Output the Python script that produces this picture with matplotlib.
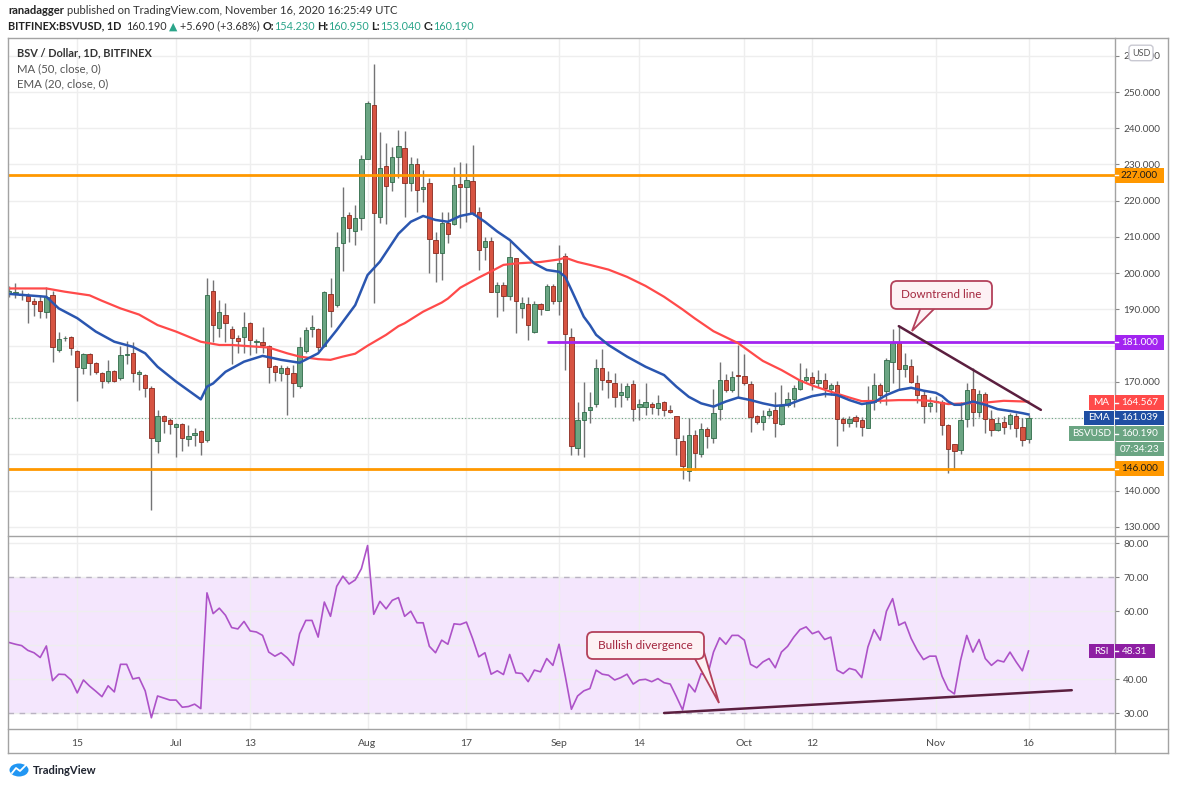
import numpy as np
import pandas as pd
import matplotlib
matplotlib.use("Agg")
import matplotlib.pyplot as plt
from matplotlib.patches import FancyBboxPatch, Rectangle, Polygon, Ellipse
from matplotlib.lines import Line2D
from matplotlib.transforms import IdentityTransform
from matplotlib.ticker import FuncFormatter, FixedLocator

plt.rcParams['font.family'] = ['Lato', 'DejaVu Sans']

# ---------------- data ----------------
start_date = "2020-06-04"
opens = [194.5,194.6,194.0,193.6,192.3,192.3,189.4,194.0,178.8,182.0,182.3,178.6,173.8,177.7,175.2,172.4,170.4,173.1,171.0,177.4,
         177.9,172.1,172.0,168.3,153.8,160.6,159.5,157.5,158.4,154.3,155.3,156.5,154.0,195.0,184.8,188.5,184.6,182.1,182.5,186.4,
         181.0,180.9,180.0,174.4,172.4,173.8,172.6,168.9,178.6,184.7,184.7,180.0,194.2,191.1,208.3,216.2,211.7,215.2,231.5,246.4,
         215.6,229.6,225.3,232.2,234.6,224.8,230.1,223.3,224.8,209.2,205.5,213.8,213.6,224.6,223.7,225.5,216.8,207.2,208.9,194.9,
         196.8,193.8,204.1,190.3,191.5,183.9,191.5,189.9,196.5,192.2,204.8,182.5,151.7,159.5,162.3,163.9,173.8,170.6,169.6,166.4,
         165.9,169.4,163.0,163.2,164.0,162.7,164.5,162.3,160.6,153.7,145.4,155.3,150.0,156.9,154.5,162.5,170.6,167.7,172.0,171.7,
         169.4,160.6,158.9,160.9,162.3,158.3,163.6,165.2,168.1,170.6,171.3,169.6,170.6,168.0,169.1,159.9,158.8,160.2,159.5,157.4,
         164.6,169.1,167.5,175.4,180.7,173.5,174.4,169.6,166.4,163.4,164.4,164.6,158.1,152.8,151.2,159.7,168.0,161.8,166.7,159.7,
         156.8,159.0,158.3,160.6,157.5,154.23]
highs = [196.5,197.2,195.4,194.6,193.1,194.0,196.3,195.0,183.7,182.6,182.6,178.8,178.0,177.9,175.5,172.8,176.1,173.3,179.8,181.4,
         181.1,173.3,172.3,169.0,162.3,160.8,160.0,158.8,158.6,158.1,157.2,156.8,198.6,198.0,192.6,191.7,185.5,183.0,189.2,186.6,
         181.8,185.3,180.3,174.7,174.7,174.5,174.7,182.5,185.3,188.5,185.0,195.0,198.6,211.3,223.9,217.0,218.8,232.6,247.6,257.7,
         239.0,235.8,234.7,239.5,239.3,232.0,231.7,228.5,226.2,211.4,217.0,217.0,229.4,230.8,230.3,235.4,218.4,209.9,210.1,197.7,
         197.7,209.0,204.3,193.5,193.4,192.2,191.8,197.0,197.0,207.8,205.5,184.8,164.6,170.0,167.3,176.3,179.0,172.9,172.6,169.8,
         169.6,170.6,165.2,169.6,164.6,166.4,164.8,163.6,160.6,155.3,160.0,156.8,158.6,157.6,168.0,175.6,172.1,173.0,180.2,177.7,
         170.3,161.0,162.4,162.8,167.1,169.2,167.3,169.2,175.3,173.9,172.8,173.4,172.4,169.8,170.2,160.3,160.5,160.9,160.4,169.0,
         172.4,169.7,176.6,184.5,185.4,178.0,176.3,171.9,167.6,165.8,166.0,165.0,158.5,153.0,164.6,169.6,173.8,167.8,167.1,162.3,
         160.3,160.6,161.4,161.3,160.1,160.95]
lows = [193.5,193.1,192.6,186.2,188.2,187.6,187.6,175.6,178.2,181.4,177.4,164.8,172.2,171.9,172.2,168.3,169.6,170.0,170.5,175.0,
        170.1,167.8,165.9,134.7,150.3,155.8,155.7,149.2,151.0,152.2,152.4,149.9,153.5,181.1,182.5,181.1,175.0,178.1,178.0,177.4,
        177.9,177.9,169.8,170.4,170.4,160.9,165.9,168.2,177.9,182.5,178.5,179.7,185.3,190.8,200.7,208.7,207.8,211.9,231.5,191.9,
        213.9,213.6,222.7,226.2,215.6,222.8,217.0,219.7,200.0,197.7,198.1,208.4,213.4,212.4,214.0,216.2,200.9,203.7,194.8,188.0,
        189.7,192.6,183.4,187.6,181.6,183.6,188.5,189.9,191.5,188.5,173.3,149.9,149.8,149.4,158.6,163.0,167.8,165.5,163.0,163.0,
        165.0,159.3,159.5,160.9,161.2,160.9,160.6,161.3,149.9,143.2,142.6,145.7,149.4,151.7,153.1,159.5,167.2,167.2,165.5,169.2,
        156.3,158.5,156.8,160.2,154.8,158.1,163.0,163.0,167.8,169.6,167.8,168.7,165.9,166.4,152.2,156.6,157.5,157.5,155.0,157.2,
        162.3,164.1,163.7,169.6,167.9,171.5,169.6,164.1,158.7,161.8,161.8,155.3,144.8,145.7,150.2,157.7,157.8,160.4,155.8,155.0,
        156.5,155.7,156.9,154.8,152.2,153.04]
closes = [195.2,194.9,194.3,192.4,191.4,189.7,193.4,179.6,181.9,182.2,179.3,174.0,177.7,175.2,172.8,170.3,173.1,170.3,177.4,177.6,
          172.4,172.8,168.3,154.5,160.6,159.1,158.3,158.4,154.6,155.2,155.8,153.5,194.0,185.7,189.2,186.4,182.1,181.4,185.2,181.6,
          181.4,180.2,174.0,172.8,173.8,172.2,169.6,179.6,184.3,185.1,179.6,194.7,189.7,207.1,215.5,212.4,215.2,231.5,246.9,216.5,
          228.9,224.1,232.2,235.1,225.0,230.0,222.9,223.8,209.4,205.5,213.8,210.7,224.3,223.7,225.7,216.5,206.4,208.9,194.9,196.8,
          193.8,204.4,192.2,191.7,185.7,191.5,190.0,196.5,192.2,202.8,183.2,152.2,159.6,161.8,163.0,173.8,170.6,170.1,165.9,167.1,
          168.9,162.5,163.9,164.5,163.0,164.1,162.3,161.8,154.5,146.9,155.3,150.5,156.9,155.2,161.4,170.6,167.7,171.5,171.7,169.6,
          160.4,158.9,160.7,162.0,158.6,163.4,165.2,168.3,170.6,171.5,169.6,170.6,168.3,169.1,159.7,158.8,159.9,159.3,157.5,164.4,
          169.1,166.4,176.1,180.7,173.5,174.7,170.1,166.4,163.4,164.3,164.7,158.0,151.5,151.0,159.5,167.8,161.8,166.7,159.7,156.8,
          158.6,157.5,160.9,157.4,154.0,160.19]

# MA(50) and EMA(20) (day index, value)
ma_days = [0, 6, 9, 13, 15, 18, 21, 24, 27, 31, 34, 36, 42, 45, 47, 50, 52, 54, 56, 58, 61, 63, 64, 67, 70, 71, 73, 76, 78,
           80, 82, 84, 86, 89, 90, 92, 94, 97, 100, 103, 106, 109, 111, 114, 118, 121, 122, 125, 128, 130, 133, 136, 138,
           141, 144, 147, 149, 152, 155, 158, 161, 165]
ma_vals = [195.8, 195.8, 194.9, 193.9, 192.4, 190.3, 188.6, 185.7, 183.9, 181.1, 180.2, 180.2, 179.5, 177.9, 177.0, 176.3,
           176.1, 177.0, 177.8, 180.0, 183.0, 185.4, 186.2, 189.4, 191.9, 193.0, 196.0, 198.8, 200.5, 202.3, 202.7, 202.9,
           203.1, 203.8, 204.3, 203.1, 202.3, 201.0, 199.0, 196.5, 193.5, 190.0, 187.5, 184.0, 180.7, 177.0, 175.8, 173.3,
           170.4, 169.0, 167.3, 165.7, 164.7, 164.8, 165.0, 165.0, 164.8, 163.9, 164.1, 164.3, 164.8, 164.567]
ema_days = [0, 6, 8, 11, 14, 17, 20, 22, 24, 27, 31, 32, 33, 35, 38, 41, 44, 47, 50, 53, 56, 58, 60, 63, 65, 67, 69, 71, 73,
            75, 77, 79, 81, 83, 85, 87, 89, 90, 91, 93, 94, 95, 97, 100, 103, 106, 108, 110, 112, 114, 116, 118, 120, 122,
            124, 126, 128, 130, 132, 134, 136, 138, 140, 142, 144, 146, 148, 150, 151, 152, 153, 154, 156, 158, 160, 162,
            164, 165]
ema_vals = [194.3, 193.5, 190.3, 187.6, 183.9, 181.1, 179.7, 177.9, 174.2, 170.1, 165.2, 168.7, 169.6, 172.8, 175.6, 177.2,
            176.1, 175.3, 177.9, 184.3, 191.2, 199.5, 203.2, 210.9, 214.2, 215.8, 214.7, 214.2, 215.8, 216.5, 214.2, 211.5,
            209.2, 205.9, 202.7, 200.9, 200.4, 199.0, 195.4, 188.0, 185.7, 183.0, 180.2, 177.0, 174.2, 171.9, 168.7, 165.9,
            164.1, 163.2, 164.6, 165.7, 165.0, 164.1, 163.4, 163.7, 165.0, 166.1, 166.7, 166.4, 165.0, 163.9, 164.4, 166.4,
            167.8, 168.4, 167.6, 167.0, 166.1, 164.6, 163.7, 163.7, 164.6, 163.7, 162.5, 162.0, 161.4, 161.039]

rsi_vals = [50.8, 50.3, 49.9, 48.5, 47.8, 46.4, 49.8, 39.6, 41.5, 41.4, 39.8, 36.0, 39.8, 38.0, 36.5, 34.9, 38.1, 36.3, 44.4,
            44.4, 40.1, 40.5, 36.6, 28.7, 35.1, 34.5, 33.9, 33.9, 31.8, 32.0, 32.7, 31.4, 65.4, 59.3, 60.9, 58.8, 55.2, 54.8,
            57.0, 54.2, 53.9, 52.9, 48.0, 46.8, 47.8, 46.3, 44.1, 53.4, 57.3, 57.3, 52.4, 62.7, 58.5, 67.3, 70.3, 68.0, 69.2,
            72.5, 79.3, 59.1, 62.9, 60.7, 63.2, 64.0, 58.5, 60.0, 56.6, 56.6, 49.7, 47.8, 51.5, 50.3, 56.3, 56.1, 56.8, 52.0,
            46.6, 47.8, 41.5, 42.5, 41.4, 47.3, 41.9, 41.7, 39.3, 42.7, 42.2, 46.1, 44.1, 50.3, 41.0, 31.2, 35.1, 36.6, 37.3,
            42.7, 41.5, 41.2, 39.8, 40.5, 41.5, 38.6, 39.8, 40.0, 39.3, 40.2, 39.0, 38.6, 34.9, 31.0, 38.6, 36.3, 41.7, 40.9,
            48.0, 52.2, 50.3, 52.9, 52.9, 51.5, 44.4, 43.4, 45.1, 46.1, 43.4, 48.0, 49.7, 52.4, 54.6, 55.4, 53.4, 54.1, 51.7,
            52.4, 42.7, 41.7, 43.2, 42.7, 40.5, 49.5, 54.6, 51.5, 60.0, 63.7, 55.9, 56.8, 52.0, 48.5, 45.8, 46.8, 46.8, 40.9,
            37.0, 35.7, 45.6, 52.9, 48.0, 51.7, 46.1, 44.1, 45.6, 45.1, 48.0, 45.1, 42.5, 48.31]

support_level = 146.0
resistance_level = 227.0
range_top_level = 181.0
range_top_from = "2020-08-30"
trend_start = ("2020-10-26", 185.4)
trend_end = ("2020-11-18", 162.3)
rsi_div_start = ("2020-09-18", 30.1)
rsi_div_end = ("2020-11-23", 36.8)

tick_dates = ["2020-06-15", "2020-07-01", "2020-07-13", "2020-08-01", "2020-08-17", "2020-09-01",
              "2020-09-14", "2020-10-01", "2020-10-12", "2020-11-01", "2020-11-16"]
tick_labels = ["15", "Jul", "13", "Aug", "17", "Sep", "14", "Oct", "12", "Nov", "16"]
price_ticks = [130, 140, 150, 160, 170, 180, 190, 200, 210, 220, 230, 240, 250, 260]
price_ticks_hidden = [150, 160, 180]      # covered by the value labels
rsi_ticks = [30, 40, 50, 60, 70, 80]
rsi_ticks_hidden = [50]

last_close = closes[-1]
ma_last, ema_last, rsi_last = 164.567, 161.039, 48.31

# ---------------- figure ----------------
W, H = 1189, 791
fig = plt.figure(figsize=(W / 100, H / 100), dpi=100)
fig.patch.set_facecolor("white")
P = IdentityTransform()


def Y(y):
    return H - y


def day(d):
    return (pd.Timestamp(d) - pd.Timestamp(start_date)).days


L, R, T, MID, BOT = 8, 1115, 38, 536, 729
ax = fig.add_axes([L / W, (H - MID) / H, (R - L) / W, (MID - T) / H])
ar = fig.add_axes([L / W, (H - BOT) / H, (R - L) / W, (BOT - MID) / H])

n = len(closes)
x = np.arange(n)
o = np.array(opens); hgh = np.array(highs); low = np.array(lows); c = np.array(closes)
up = c >= o

XMIN, XMAX = -0.21, 179.0
for a in (ax, ar):
    a.set_xlim(XMIN, XMAX)
    for s in a.spines.values():
        s.set_visible(False)
    a.set_facecolor("white")
    a.set_axisbelow(True)

ax.set_ylim(127.5, 264.9)
ar.set_ylim(25.4, 82.1)

tick_pos = [day(d) for d in tick_dates]
for a in (ax, ar):
    a.xaxis.set_major_locator(FixedLocator(tick_pos))
    a.grid(True, color="#eeeeee", lw=1)
ax.tick_params(axis="x", length=0, labelbottom=False)
ar.set_xticks(tick_pos)
ar.set_xticklabels(tick_labels)
ar.tick_params(axis="x", length=0, pad=7, labelsize=7.5, labelcolor="#4a4a4a")

ax.yaxis.tick_right()
ax.set_yticks(price_ticks)
ax.yaxis.set_major_formatter(FuncFormatter(lambda v, p: "" if round(v) in price_ticks_hidden else f"{v:.3f}"))
ar.yaxis.tick_right()
ar.set_yticks(rsi_ticks)
ar.yaxis.set_major_formatter(FuncFormatter(lambda v, p: "" if round(v) in rsi_ticks_hidden else f"{v:.2f}"))
for a in (ax, ar):
    a.tick_params(axis="y", length=3, width=0.8, color="#888888", labelsize=7.2,
                  labelcolor="#4a4a4a", pad=3)

# candles
up_face, dn_face = "#6ba583", "#d75442"
up_edge, dn_edge = "#2f6b48", "#8a2a1f"
ax.vlines(x, low, hgh, color="#737375", lw=1, zorder=2)
ax.bar(x, c - o, bottom=o, width=0.7,
       color=np.where(up, up_face, dn_face),
       edgecolor=np.where(up, up_edge, dn_edge), linewidth=0.6, zorder=3)

# levels
ax.axhline(resistance_level, color="#ff9800", lw=2, zorder=4)
ax.axhline(support_level, color="#ff9800", lw=2, zorder=4)
ax.hlines(range_top_level, day(range_top_from), XMAX, color="#a224f0", lw=2, zorder=4)
ax.axhline(last_close, color="#6ba583", lw=0.8, ls=(0, (1, 2)), zorder=1.5)

# moving averages
ax.plot(ma_days, ma_vals, color="#ff4a4a", lw=1.6, zorder=5, solid_joinstyle="round")
ax.plot(ema_days, ema_vals, color="#2a56b0", lw=1.8, zorder=5, solid_joinstyle="round")

# trend line
ax.plot([day(trend_start[0]), day(trend_end[0])], [trend_start[1], trend_end[1]],
        color="#5b1f3f", lw=1.8, zorder=6, solid_capstyle="round")

# RSI pane
ar.axhspan(30, 70, color="#f4e6fd", zorder=0.1, lw=0)
ar.axhline(70, color="#b9b2c2", lw=1, ls=(0, (4, 4)), zorder=0.6)
ar.axhline(30, color="#b9b2c2", lw=1, ls=(0, (4, 4)), zorder=0.6)
ar.plot(x, rsi_vals, color="#ad52c8", lw=1.2, zorder=3)
ar.plot([day(rsi_div_start[0]), day(rsi_div_end[0])], [rsi_div_start[1], rsi_div_end[1]],
        color="#5b1f3f", lw=1.8, zorder=4, solid_capstyle="round")

# ---------------- frame ----------------
fc = "#a3a3a3"
for (x0, y0, x1, y1) in [(L, T, 1168, T), (L, 753, 1168, 753), (L, T, L, 753), (1168, T, 1168, 753),
                         (R, T, R, 753), (L, MID, 1168, MID), (L, BOT, 1168, BOT)]:
    fig.add_artist(Line2D([x0, x1], [Y(y0), Y(y1)], transform=P, color=fc, lw=1, zorder=3))

renderer = fig.canvas.get_renderer()


def draw_runs(x0, yc, runs, fs, target=None):
    def _draw(size):
        arts, cur = [], x0
        for s, col, wt, gap in runs:
            t = fig.text(cur, Y(yc), s, transform=P, color=col, fontsize=size, fontweight=wt,
                         ha="left", va="center", zorder=10)
            w = t.get_window_extent(renderer).width
            arts.append(t)
            cur += w + gap * size / 9.0
        return arts, cur - x0
    arts, tot = _draw(fs)
    if target is not None:
        for a_ in arts:
            a_.remove()
        arts, tot = _draw(fs * target / tot)
    return arts


# header
draw_runs(8, 10, [("ranadagger", "#222222", "bold", 3),
                  ("published on TradingView.com, November 16, 2020 16:25:49 UTC", "#333333", "normal", 0)],
          9, target=390)
green = "#2ba58a"
draw_runs(8, 26, [("BITFINEX:BSVUSD, 1D", "#222222", "bold", 5),
                  ("160.190", "#333333", "normal", 3),
                  ("\u25B2", green, "normal", 3),
                  ("+5.690 (+3.68%)", "#333333", "normal", 3),
                  ("O:", "#222222", "bold", 0), ("154.230", green, "normal", 3),
                  ("H:", "#222222", "bold", 0), ("160.950", green, "normal", 3),
                  ("L:", "#222222", "bold", 0), ("153.040", green, "normal", 3),
                  ("C:", "#222222", "bold", 0), ("160.190", green, "normal", 0)],
          9, target=463)

# legend
draw_runs(16.7, 53, [("BSV / Dollar, 1D, BITFINEX", "#333333", "bold", 0)], 8.5, target=135.6)
draw_runs(16.7, 69, [("MA (50, close, 0)", "#555555", "normal", 0)], 8.5, target=83.5)
draw_runs(16.7, 84, [("EMA (20, close, 0)", "#555555", "normal", 0)], 8.5, target=90.5)


# right-axis boxes
def box(x0, x1, yc, h, fcol, text, tcol, fs=7.2, weight="normal"):
    fig.add_artist(Rectangle((x0, Y(yc + h / 2)), x1 - x0, h, transform=P, fc=fcol, ec="none", zorder=8))
    fig.text((x0 + x1) / 2, Y(yc), text, transform=P, ha="center", va="center", color=tcol,
             fontsize=fs, fontweight=weight, zorder=9)


def dash(yc):
    fig.add_artist(Line2D([R, R + 3], [Y(yc), Y(yc)], transform=P, color="white", lw=1, zorder=9))


def price_y(v):
    return MID - (v - 127.5) * (MID - T) / (264.9 - 127.5)


box(1115, 1164, price_y(resistance_level), 15, "#ff9800", "227.000", "#1a1a1a")
dash(price_y(resistance_level))
box(1115, 1164, price_y(range_top_level), 15, "#a224f0", "181.000", "white")
dash(price_y(range_top_level))
box(1089, 1114, 402.5, 14.5, "#ff4a4a", "MA", "white")
box(1115, 1164, 402.5, 14.5, "#ff4a4a", f"{ma_last:.3f}", "white")
dash(402.5)
box(1084, 1114, 418, 14.5, "#1f4ea3", "EMA", "white")
box(1115, 1164, 418, 14.5, "#1f4ea3", f"{ema_last:.3f}", "white")
dash(418)
box(1069, 1114, 433.5, 14.5, "#6ba583", "BSVUSD", "white")
box(1115, 1164, 433.5, 14.5, "#6ba583", f"{last_close:.3f}", "white")
dash(433.5)
box(1115, 1164, 449.2, 14.5, "#6ba583", "07:34:23", "white")
box(1115, 1164, price_y(support_level), 15, "#ff9800", "146.000", "#1a1a1a")
dash(price_y(support_level))
rsi_y = BOT - (rsi_last - 25.4) * (BOT - MID) / (82.1 - 25.4)
box(1089, 1114, rsi_y, 14.5, "#8e1fa3", "RSI", "white")
box(1115, 1155, rsi_y, 14.5, "#8e1fa3", f"{rsi_last:.2f}", "white")
dash(rsi_y)

# USD badge
fig.add_artist(FancyBboxPatch((1129, Y(60.7)), 24, 15.5, boxstyle="round,pad=0,rounding_size=3",
                              transform=P, fc="white", ec="#c9c9d2", lw=1, zorder=8))
fig.text(1141, Y(53), "USD", transform=P, ha="center", va="center", color="#555555", fontsize=6.5, zorder=9)


# callouts
def callout(x0, y0, x1, y1, base_a, base_b, tip, text, fs_target):
    fcol, ecol = "#fdf1f4", "#b3405a"
    fig.add_artist(Polygon([(base_a[0], Y(base_a[1])), (tip[0], Y(tip[1])), (base_b[0], Y(base_b[1]))],
                           closed=True, transform=P, fc=fcol, ec=ecol, lw=1.3, zorder=11))
    fig.add_artist(FancyBboxPatch((x0, Y(y1)), x1 - x0, y1 - y0, boxstyle="round,pad=0,rounding_size=6",
                                  transform=P, fc=fcol, ec=ecol, lw=1.3, zorder=12))
    arts = draw_runs(0, (y0 + y1) / 2, [(text, "#a3263e", "normal", 0)], 8, target=fs_target)
    w = arts[0].get_window_extent(renderer).width
    arts[0].set_x((x0 + x1) / 2 - w / 2)
    arts[0].set_zorder(13)


callout(891, 281, 992, 309, (921, 307), (936, 307), (912, 331), "Downtrend line", 80)
callout(587, 632, 704, 659, (694, 657), (704, 652), (719, 703), "Bullish divergence", 96)

# TradingView logo
fig.add_artist(Ellipse((19, Y(770)), 19, 13, transform=P, fc="#2196f3", ec="none", zorder=8))
fig.add_artist(Line2D([12, 16, 20, 26], [Y(773), Y(768), Y(771), Y(765)], transform=P,
                      color="white", lw=1.3, zorder=9))
draw_runs(33, 770, [("TradingView", "#1f2430", "bold", 0)], 8.5, target=64)

fig.savefig("out.png", dpi=100)
